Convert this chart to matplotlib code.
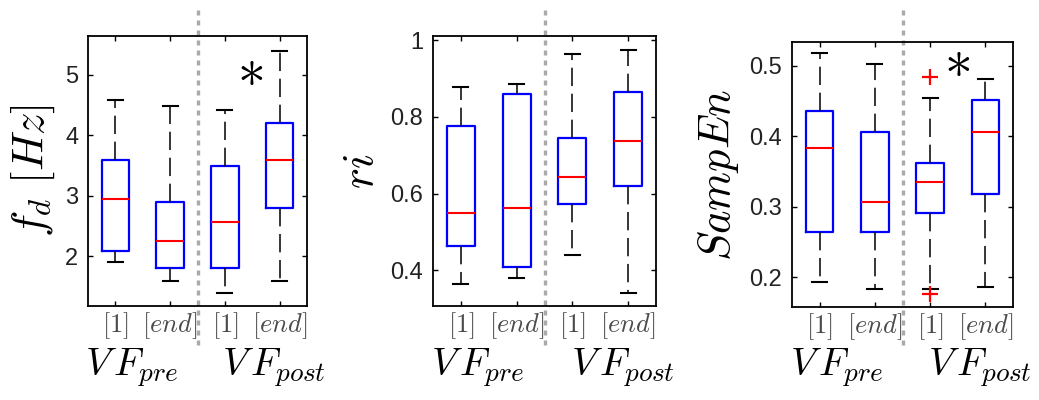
import numpy as np
import matplotlib
matplotlib.use('Agg')
import matplotlib.pyplot as plt
import matplotlib.transforms as mtransforms

plt.rcParams['mathtext.fontset'] = 'cm'
plt.rcParams['font.family'] = ['Liberation Sans', 'DejaVu Sans']

# box statistics: [1] pre, [end] pre, [1] post, [end] post
fd_lo = [1.90, 1.59, 1.40, 1.59]
fd_q1 = [2.09, 1.81, 1.81, 2.80]
fd_med = [2.95, 2.25, 2.56, 3.59]
fd_q3 = [3.59, 2.90, 3.49, 4.20]
fd_hi = [4.59, 4.49, 4.41, 5.40]
fd_fliers = [[], [], [], []]

ri_lo = [0.365, 0.381, 0.440, 0.341]
ri_q1 = [0.464, 0.409, 0.574, 0.620]
ri_med = [0.550, 0.563, 0.643, 0.737]
ri_q3 = [0.776, 0.861, 0.746, 0.866]
ri_hi = [0.878, 0.885, 0.963, 0.974]
ri_fliers = [[], [], [], []]

se_lo = [0.194, 0.184, 0.184, 0.187]
se_q1 = [0.265, 0.265, 0.291, 0.318]
se_med = [0.383, 0.307, 0.336, 0.406]
se_q3 = [0.436, 0.407, 0.363, 0.451]
se_hi = [0.519, 0.503, 0.455, 0.481]
se_fliers = [[], [], [0.484, 0.176], []]

tick_labels = [r'$[1]$', r'$[end]$', r'$[1]$', r'$[end]$']
group_labels = [r'$V\,F_{pre}$', r'$V\,F_{post}$']

panels = [
    dict(lo=fd_lo, q1=fd_q1, med=fd_med, q3=fd_q3, hi=fd_hi, fl=fd_fliers,
         ylabel=r'$f_d\ [Hz]$', ylim=(1.18, 5.64), yticks=[2, 3, 4, 5],
         yticklabels=['2', '3', '4', '5'], star=(3.46, 5.07),
         rect=[88, 36, 307, 306]),
    dict(lo=ri_lo, q1=ri_q1, med=ri_med, q3=ri_q3, hi=ri_hi, fl=ri_fliers,
         ylabel=r'$ri$', ylim=(0.307, 1.011), yticks=[0.4, 0.6, 0.8, 1.0],
         yticklabels=['0.4', '0.6', '0.8', '1'], star=None,
         rect=[433, 36, 656, 306]),
    dict(lo=se_lo, q1=se_q1, med=se_med, q3=se_q3, hi=se_hi, fl=se_fliers,
         ylabel=r'$SampEn$', ylim=(0.158, 0.534), yticks=[0.2, 0.3, 0.4, 0.5],
         yticklabels=['0.2', '0.3', '0.4', '0.5'], star=(3.49, 0.505),
         rect=[792, 42, 1013, 307]),
]

W, H = 1039, 400
fig = plt.figure(figsize=(W / 100, H / 100), dpi=100)

for p in panels:
    l, t, r, b = p['rect']
    ax = fig.add_axes([l / W, 1 - b / H, (r - l) / W, (b - t) / H])
    stats = []
    for i in range(4):
        stats.append(dict(med=p['med'][i], q1=p['q1'][i], q3=p['q3'][i],
                          whislo=p['lo'][i], whishi=p['hi'][i],
                          fliers=p['fl'][i]))
    ax.bxp(stats, positions=[1, 2, 3, 4], widths=0.5, capwidths=0.27,
           boxprops=dict(color='#0000ff', lw=1.6),
           medianprops=dict(color='#ff0000', lw=1.5),
           whiskerprops=dict(color='black', lw=1.1, linestyle=(0, (12, 5))),
           capprops=dict(color='black', lw=1.5),
           flierprops=dict(marker='+', markeredgecolor='#ff0000',
                           markersize=12, markeredgewidth=1.6))
    ax.set_xlim(0.5, 4.5)
    ax.set_ylim(*p['ylim'])
    ax.set_yticks(p['yticks'])
    ax.set_yticklabels(p['yticklabels'])
    ax.set_xticks([1, 2, 3, 4])
    ax.set_xticklabels(tick_labels, color='#4a4a4a')
    ax.tick_params(direction='in', top=True, right=True, length=3.5,
                   width=1.0, labelsize=16, color='black')
    ax.tick_params(axis='x', labelsize=19, pad=3)
    ax.tick_params(axis='y', labelsize=17, pad=7, labelcolor='#222222')
    for s in ax.spines.values():
        s.set_linewidth(1.3)
    ax.set_ylabel(p['ylabel'], fontsize=32, labelpad=6)

    ax_h = b - t
    trans = mtransforms.blended_transform_factory(ax.transData, ax.transAxes)
    ax.text(1.3, -(375 - b) / ax_h, group_labels[0], transform=trans,
            ha='center', va='baseline', fontsize=28)
    ax.text(3.9, -(375 - b) / ax_h, group_labels[1], transform=trans,
            ha='center', va='baseline', fontsize=28)

    # dotted separator between pre and post
    ax.axvline(2.5, ymin=-(345 - b) / ax_h, ymax=(b - 7) / ax_h,
               color='#aaaaaa', lw=2.4, linestyle=(0, (1.5, 1.5)),
               clip_on=False, dash_capstyle='butt')

    if p['star'] is not None:
        ax.text(p['star'][0], p['star'][1], r'$\ast$', fontsize=40,
                ha='center', va='center')

fig.savefig('out.png', dpi=100)
